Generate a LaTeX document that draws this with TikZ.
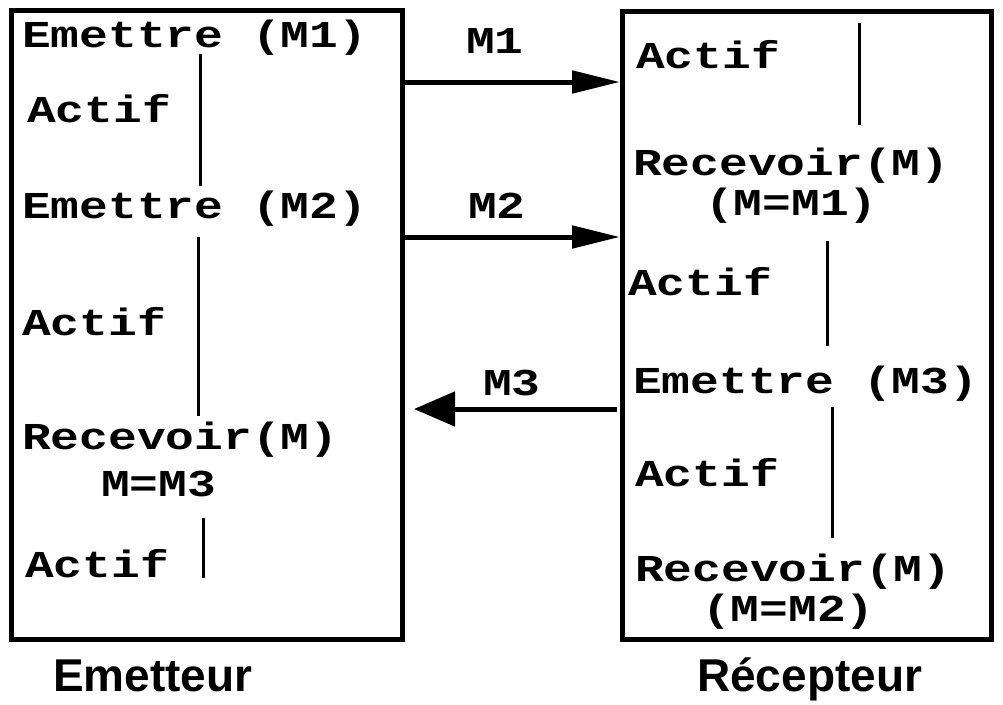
\documentclass[tikz,border=0pt]{standalone}
\usepackage{fontspec}
\usetikzlibrary{arrows.meta}
\newfontfamily\codefont{Liberation Mono}[FakeStretch=1.26]
\newfontfamily\titlefont{Liberation Sans}
\tikzset{
  process/.style={draw, line width=5pt, inner sep=0pt, outer sep=2.5pt},
  code/.style={anchor=base west, inner sep=0pt, font=\codefont\bfseries\fontsize{38}{44}\selectfont},
  title/.style={anchor=base west, inner sep=0pt, font=\titlefont\bfseries\fontsize{46}{52}\selectfont},
  msg/.style={line width=5pt, -{Triangle[length=48pt,width=22pt]}},
  reply/.style={line width=5pt, -{Triangle[length=41pt,width=34pt]}},
  life/.style={line width=2.5pt},
}
\begin{document}
\begin{tikzpicture}[x=1pt,y=-1pt]
\useasboundingbox (0,0) rectangle (1003,704);

% the two processes
\node[process, minimum width=390.8pt, minimum height=629.7pt] (L) at (207.1,324.85) {};
\node[process, minimum width=368.5pt, minimum height=628.7pt] (R) at (806.75,325.35) {};

% sender timeline
\node[code] (le1) at (22,47.3) {Emettre (M1)};
\node[code] (la1) at (27,122) {Actif};
\node[code] (le2) at (22,218) {Emettre (M2)};
\node[code] (la2) at (22,335) {Actif};
\node[code] (lr1) at (22,449.3) {Recevoir(M)};
\node[code] (lm1) at (101,496) {M=M3};
\node[code] (la3) at (25,577.5) {Actif};
\draw[life] (200.5,54) -- (200.5,186);
\draw[life] (198.3,237) -- (198.3,416);
\draw[life] (203.3,518) -- (203.3,578);

% receiver timeline
\node[code] (ra1) at (636,68.3) {Actif};
\node[code] (rr1) at (633,175) {Recevoir(M)};
\node[code] (rm1) at (705,215.5) {(M=M1)};
\node[code] (ra2) at (628,295) {Actif};
\node[code] (re1) at (633,393.3) {Emettre (M3)};
\node[code] (ra3) at (635,486.7) {Actif};
\node[code] (rr2) at (635,581.7) {Recevoir(M)};
\node[code] (rm2) at (702,621.5) {(M=M2)};
\draw[life] (859.3,22.7) -- (859.3,125);
\draw[life] (827.3,240.7) -- (827.3,346);
\draw[life] (832.3,406.7) -- (832.3,538);

% messages
\draw[msg] (L.east |- 0,82) -- (R.west |- 0,82);
\node[code] (m1) at (466,53) {M1};
\draw[msg] (L.east |- 0,237) -- (R.west |- 0,237);
\node[code] (m2) at (468,218) {M2};
\draw[reply] ([xshift=-3pt]R.west |- 0,409) -- ([xshift=9pt]L.east |- 0,409);
\node[code] (m3) at (483,395) {M3};

% process names
\node[title] (tl) at (53,691.7) {Emetteur};
\node[title] (tr) at (697,691.7) {Récepteur};
\end{tikzpicture}
\end{document}
